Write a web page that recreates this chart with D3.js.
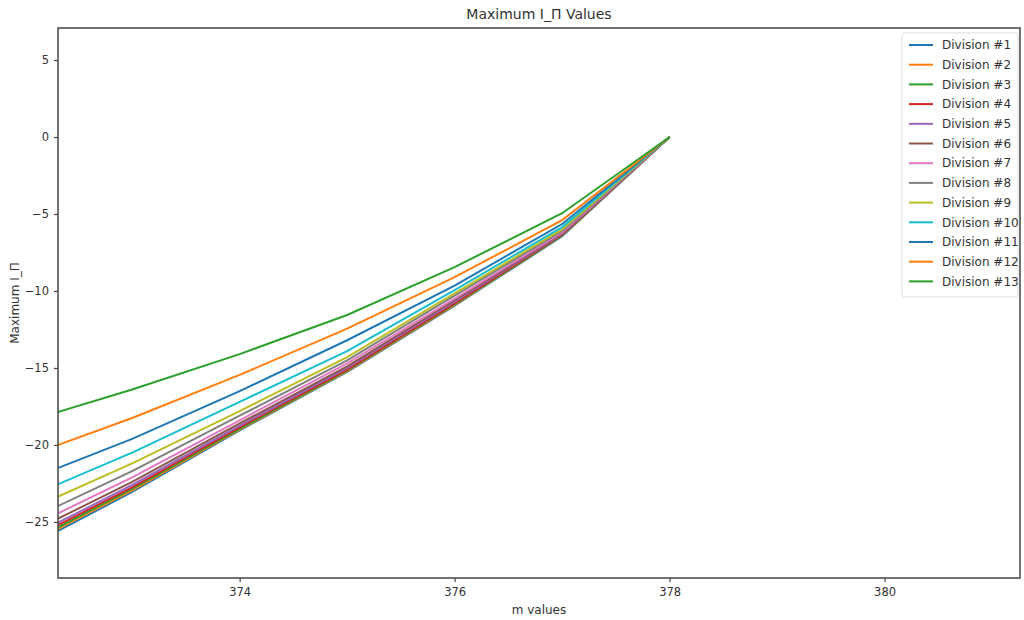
<!DOCTYPE html>
<html>
<head>
<meta charset="utf-8">
<script src="https://cdn.jsdelivr.net/npm/d3@7"></script>
<style>
  body { margin: 0; background: #fff; }
  text { font-family: "DejaVu Sans", sans-serif; fill: #333; }
</style>
</head>
<body>
<svg id="chart" width="1024" height="620"></svg>
<script>
// m values (x axis)
var mValues = [372, 373, 374, 375, 376, 377, 378];

// maximum I_Π per division
var div1  = [-26.72, -23.05, -19.05, -15.25, -10.95, -6.45, 0];
var div2  = [-26.57, -22.95, -19.00, -15.20, -10.90, -6.40, 0];
var div3  = [-26.47, -22.85, -18.95, -15.15, -10.85, -6.40, 0];
var div4  = [-26.30, -22.75, -18.85, -15.10, -10.80, -6.35, 0];
var div5  = [-26.15, -22.60, -18.75, -15.00, -10.70, -6.30, 0];
var div6  = [-25.86, -22.40, -18.60, -14.90, -10.60, -6.25, 0];
var div7  = [-25.49, -22.10, -18.40, -14.70, -10.50, -6.20, 0];
var div8  = [-24.98, -21.70, -18.10, -14.50, -10.30, -6.10, 0];
var div9  = [-24.33, -21.20, -17.80, -14.30, -10.15, -6.00, 0];
var div10 = [-23.47, -20.50, -17.20, -13.90, -9.95, -5.85, 0];
var div11 = [-22.35, -19.60, -16.50, -13.20, -9.65, -5.65, 0];
var div12 = [-20.79, -18.25, -15.45, -12.45, -9.10, -5.40, 0];
var div13 = [-18.52, -16.40, -14.10, -11.56, -8.45, -4.95, 0];

var seriesNames = ["Division #1", "Division #2", "Division #3", "Division #4", "Division #5",
    "Division #6", "Division #7", "Division #8", "Division #9", "Division #10",
    "Division #11", "Division #12", "Division #13"];
var seriesValues = [div1, div2, div3, div4, div5, div6, div7, div8, div9, div10, div11, div12, div13];

var xTicks = [374, 376, 378, 380];
var yTicks = [5, 0, -5, -10, -15, -20, -25];

var colors = ["#1f77b4", "#ff7f0e", "#2ca02c", "#d62728", "#9467bd",
    "#8c564b", "#e377c2", "#7f7f7f", "#bcbd22", "#17becf"];

var margin = { top: 28, right: 4, bottom: 42, left: 58 },
    width = 1024 - margin.left - margin.right,
    height = 620 - margin.top - margin.bottom;

var svg = d3.select('svg#chart');
var g = svg.append('g')
    .attr('transform', 'translate(' + margin.left + ',' + margin.top + ')');

var x = d3.scaleLinear().domain([372.31, 381.26]).range([0, width]);
var y = d3.scaleLinear().domain([-28.64, 7.08]).range([height, 0]);

g.append('clipPath').attr('id', 'clip')
    .append('rect').attr('width', width).attr('height', height);

var line = d3.line()
    .x((d, i) => x(mValues[i]))
    .y(d => y(d));

g.append('g').attr('clip-path', 'url(#clip)')
    .selectAll('path.series')
    .data(seriesValues)
    .enter().append('path')
    .attr('class', 'series')
    .attr('fill', 'none')
    .attr('stroke', (d, i) => colors[i % 10])
    .attr('stroke-width', 2)
    .attr('d', line);

// axes
var xAxis = g.append('g')
    .attr('transform', 'translate(0,' + height + ')')
    .call(d3.axisBottom(x).tickValues(xTicks).tickSize(4).tickPadding(6));
var yAxis = g.append('g')
    .call(d3.axisLeft(y).tickValues(yTicks).tickSize(4).tickPadding(5)
        .tickFormat(d => d < 0 ? '\u2212' + Math.abs(d) : d));

[xAxis, yAxis].forEach(function (a) {
    a.select('.domain').remove();
    a.selectAll('line').attr('stroke', '#444').attr('stroke-width', 1.2);
    a.selectAll('text').style('font-size', '11.5px').attr('fill', '#333');
});

// frame
g.append('rect')
    .attr('width', width).attr('height', height)
    .attr('fill', 'none').attr('stroke', '#444').attr('stroke-width', 1.5);

// titles
svg.append('text')
    .attr('x', margin.left + width / 2).attr('y', 19)
    .attr('text-anchor', 'middle').style('font-size', '14px')
    .text('Maximum I_\u03A0 Values');
svg.append('text')
    .attr('x', margin.left + width / 2).attr('y', 614)
    .attr('text-anchor', 'middle').style('font-size', '12px')
    .text('m values');
svg.append('text')
    .attr('transform', 'translate(19,' + (margin.top + height / 2) + ') rotate(-90)')
    .attr('text-anchor', 'middle').style('font-size', '12px')
    .text('Maximum I_\u03A0');

// legend
var legend = svg.append('g').attr('transform', 'translate(902,33)');
legend.append('rect')
    .attr('width', 116).attr('height', 264).attr('rx', 3)
    .attr('fill', '#fff').attr('stroke', '#ddd');
var item = legend.selectAll('g.item')
    .data(seriesNames)
    .enter().append('g')
    .attr('class', 'item')
    .attr('transform', (d, i) => 'translate(0,' + (12 + i * 19.7) + ')');
item.append('line')
    .attr('x1', 7).attr('x2', 31)
    .attr('stroke', (d, i) => colors[i % 10]).attr('stroke-width', 2);
item.append('text')
    .attr('x', 40).attr('dy', '0.35em')
    .style('font-size', '12px')
    .text(d => d);
</script>
</body>
</html>
